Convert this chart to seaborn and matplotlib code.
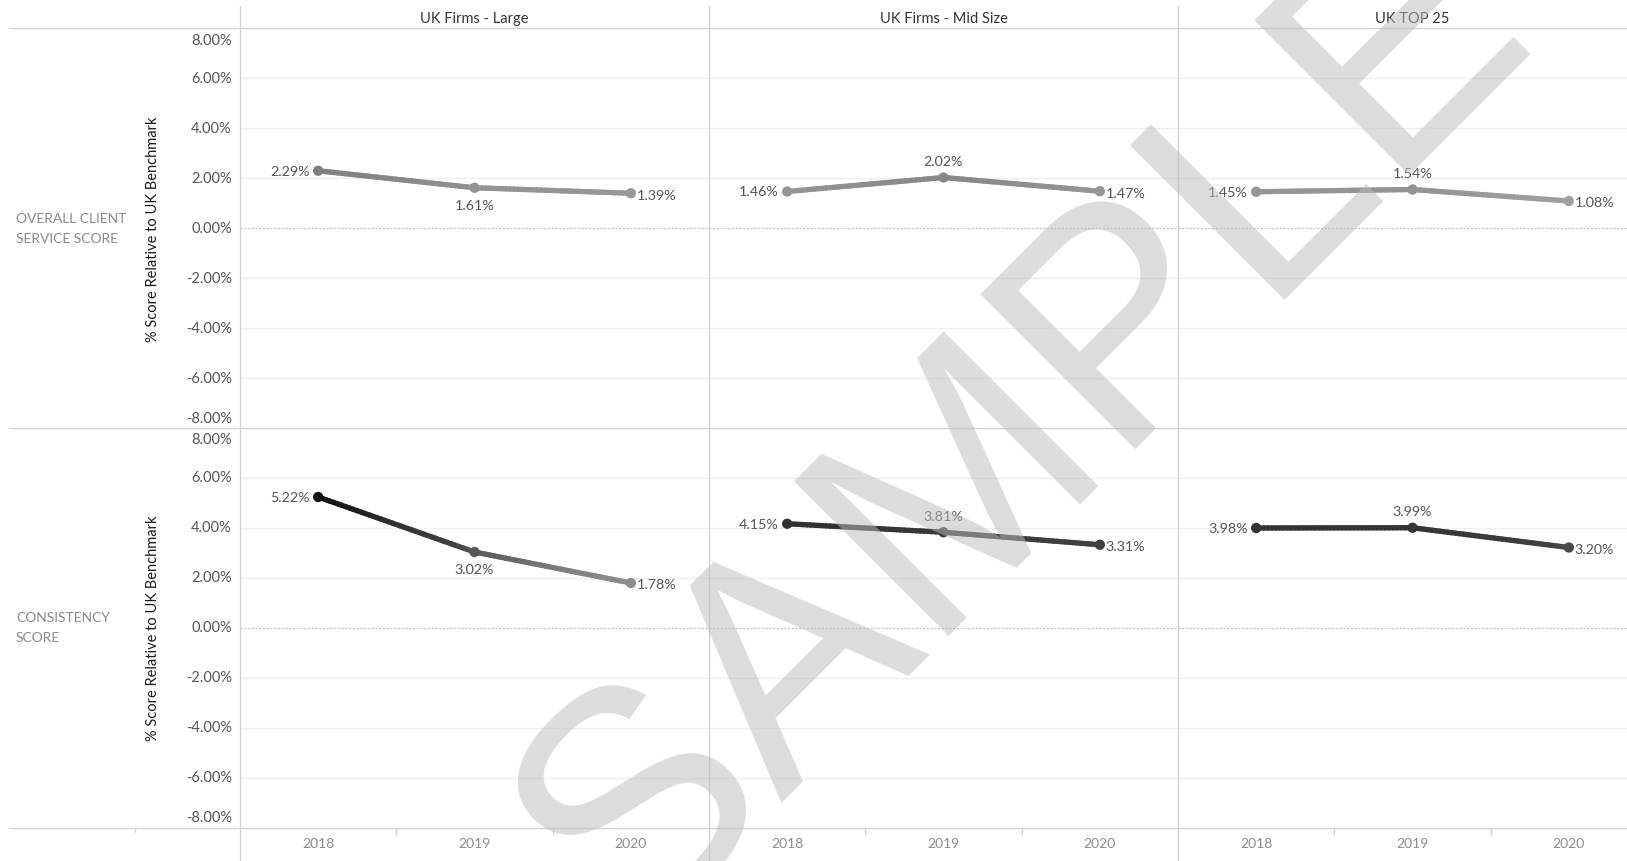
import numpy as np
import pandas as pd
import matplotlib
matplotlib.use("Agg")
import matplotlib.pyplot as plt
import seaborn as sns
from matplotlib.collections import LineCollection
from matplotlib.colors import LinearSegmentedColormap, Normalize
from matplotlib.lines import Line2D

# ---- data -------------------------------------------------------------
columns = ["UK Firms - Large", "UK Firms - Mid Size", "UK TOP 25"]
rows = ["OVERALL CLIENT\nSERVICE SCORE", "CONSISTENCY\nSCORE"]
years = ["2018", "2019", "2020"]

overall_large = [2.29, 1.61, 1.39]
overall_mid = [1.46, 2.02, 1.47]
overall_top25 = [1.45, 1.54, 1.08]
consistency_large = [5.22, 3.02, 1.78]
consistency_mid = [4.15, 3.81, 3.31]
consistency_top25 = [3.98, 3.99, 3.20]

# where the middle label of each series sits
middle_label = [["below", "above", "above"],
                ["below", "above", "above"]]

y_ticks = [8, 6, 4, 2, 0, -2, -4, -6, -8]

series = [[overall_large, overall_mid, overall_top25],
          [consistency_large, consistency_mid, consistency_top25]]

records = []
for r, row in enumerate(rows):
    for c, col in enumerate(columns):
        for i, yr in enumerate(years):
            records.append(dict(row=r, col=c, year=yr, xi=i, value=series[r][c][i]))
df = pd.DataFrame(records)

# ---- style ------------------------------------------------------------
sns.set_theme(style="white")
plt.rcParams["font.family"] = ["Lato", "DejaVu Sans"]

W, H = 1627, 862
fig = plt.figure(figsize=(W / 100, H / 100), dpi=100)


def fx(px):
    return px / W


def fy(py):
    return 1 - py / H


# sequential grey scale: larger value -> darker
grey_nodes = [(1.0, 162), (2.3, 127), (3.0, 88), (3.3, 64), (4.0, 52), (5.3, 14)]
lo, hi = grey_nodes[0][0], grey_nodes[-1][0]
cmap = LinearSegmentedColormap.from_list(
    "greys_tab",
    [((v - lo) / (hi - lo), (g / 255, g / 255, g / 255)) for v, g in grey_nodes])
norm = Normalize(lo, hi)

frame_col = "#d4d4d4"
col_left = [240, 709, 1178]
col_w = 469
row_top = [29, 428.5]
row_h = 400

label_col = "#555555"

for r in range(len(rows)):
    for c in range(len(columns)):
        ax = fig.add_axes([fx(col_left[c]), fy(row_top[r] + row_h),
                           fx(col_w), row_h / H])
        sub = df[(df.row == r) & (df.col == c)].sort_values("xi")
        xs = sub.xi.to_numpy(dtype=float)
        vs = sub.value.to_numpy(dtype=float)

        # gridlines and zero line
        for t in y_ticks:
            if t == 0:
                ax.axhline(0, color="#bdbdbd", lw=0.9, ls=(0, (1.5, 1.5)), zorder=1)
            elif abs(t) < 8:
                ax.axhline(t, color="#efefef", lw=1.0, zorder=0.5)

        # gradient line between consecutive points
        segs, cols = [], []
        for k in range(len(xs) - 1):
            tt = np.linspace(0, 1, 41)
            px = xs[k] + (xs[k + 1] - xs[k]) * tt
            pv = vs[k] + (vs[k + 1] - vs[k]) * tt
            pts = np.column_stack([px, pv])
            for j in range(len(tt) - 1):
                segs.append(pts[j:j + 2])
                cols.append(cmap(norm((pv[j] + pv[j + 1]) / 2)))
        lc = LineCollection(segs, colors=cols, linewidths=3.8, capstyle="round",
                            joinstyle="round", zorder=3)
        ax.add_collection(lc)

        sns.scatterplot(data=sub, x="xi", y="value", hue="value", palette=cmap,
                        hue_norm=norm, s=55, linewidth=0, legend=False,
                        ax=ax, zorder=4)

        # value labels
        for i, (x, v) in enumerate(zip(xs, vs)):
            txt = f"{v:.2f}%"
            if i == 0:
                ax.annotate(txt, (x, v), xytext=(-6, 0), textcoords="offset points",
                            ha="right", va="center", fontsize=10.3, color=label_col)
            elif i == len(xs) - 1:
                ax.annotate(txt, (x, v), xytext=(4, -1), textcoords="offset points",
                            ha="left", va="center", fontsize=10.3, color=label_col)
            else:
                dy = 12 if middle_label[r][c] == "above" else -12.5
                ax.annotate(txt, (x, v), xytext=(0, dy), textcoords="offset points",
                            ha="center", va="center", fontsize=10.3, color=label_col)

        ax.set_xlim(-0.5, 2.5)
        ax.set_ylim(-8, 8)
        ax.set_xlabel("")
        ax.set_ylabel("")
        for s in ax.spines.values():
            s.set_visible(False)

        ax.set_yticks(y_ticks)
        ax.tick_params(axis="y", length=0, labelleft=False)
        if c == 0:
            # axis labels; the end labels are pulled inside the pane
            for t in y_ticks:
                dy = 0
                if t == y_ticks[0]:
                    dy = -8.5
                elif t == y_ticks[-1]:
                    dy = 7.5
                ax.annotate(f"{t:.2f}%", (0, t), xycoords=("axes fraction", "data"),
                            xytext=(-6, dy), textcoords="offset points",
                            ha="right", va="center", fontsize=10.5, color="#555555",
                            annotation_clip=False)

        if r == len(rows) - 1:
            ax.set_xticks([0, 1, 2])
            ax.set_xticklabels(years)
            ax.set_xticks([0.5, 1.5], minor=True)
            ax.tick_params(axis="x", which="major", length=0, pad=7,
                           labelsize=10, labelcolor="#8c8c8c")
            ax.tick_params(axis="x", which="minor", length=5, width=1,
                           color=frame_col, bottom=True)
        else:
            ax.set_xticks([])

# ---- frame lines -------------------------------------------------------
for yy in [29, 428.5, 828.5]:
    fig.add_artist(Line2D([fx(9), 1], [fy(yy), fy(yy)], color=frame_col, lw=1))
for xx in col_left:
    fig.add_artist(Line2D([fx(xx), fx(xx)], [fy(7), 0], color=frame_col, lw=1))
fig.add_artist(Line2D([fx(135), fx(135)], [fy(828.5), fy(833)], color=frame_col, lw=1))

# ---- headers -----------------------------------------------------------
for c, col in enumerate(columns):
    fig.text(fx(col_left[c] + col_w / 2), fy(19), col, ha="center", va="center",
             fontsize=10.5, color="#333333")

for r, row in enumerate(rows):
    mid = row_top[r] + row_h / 2
    fig.text(fx(16), fy(mid), row, ha="left", va="center", fontsize=10,
             color="#8a8a8a", linespacing=1.8)
    fig.text(fx(153), fy(mid), "% Score Relative to UK Benchmark", rotation=90,
             ha="center", va="center", fontsize=10.5, color="#1a1a1a")

# ---- watermark ---------------------------------------------------------
fig.text(fx(1025), fy(430), "SAMPLE", rotation=45, rotation_mode="anchor",
         ha="center", va="center", fontsize=228, family="Liberation Sans",
         color="#bcbcbc", alpha=0.52, zorder=10)

fig.savefig("out.png", dpi=100)
